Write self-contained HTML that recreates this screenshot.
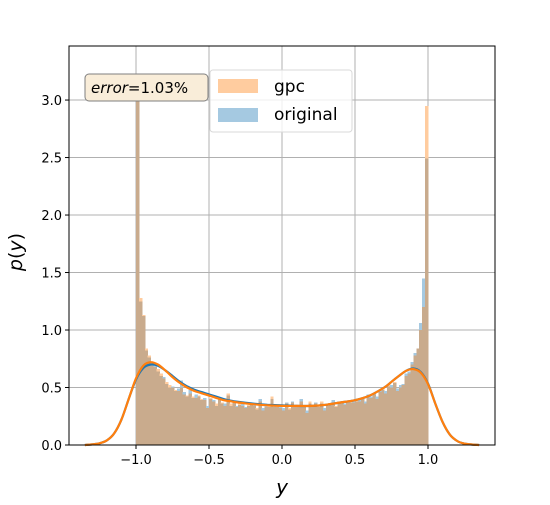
<!DOCTYPE html>
<html><head><meta charset="utf-8"><style>
body{margin:0;background:#fff}
svg{font-family:"DejaVu Sans","Liberation Sans",sans-serif}
</style></head><body>
<svg id="chart" width="550" height="500">
<rect x="0" y="0" width="550" height="500" fill="#fff"/>
<g id="grid"></g><g id="bars" shape-rendering="crispEdges"></g><g id="curves"></g><g id="axes"></g>
<g>
<rect x="85" y="74" width="123" height="27" rx="4" fill="#f9edd9" stroke="#7f7f7f" stroke-width="1"/>
<text x="91" y="93" font-size="15"><tspan font-style="italic">error</tspan>=1.03%</text>
</g>
<g>
<rect x="210" y="70" width="142" height="62" rx="3" fill="#fff" fill-opacity="0.8" stroke="#d9d9d9"/>
<rect x="218" y="79" width="40" height="14" fill="#ffcc9f"/>
<text x="274" y="92" font-size="17">gpc</text>
<rect x="218" y="108" width="40" height="14" fill="#a5c9e1"/>
<text x="274" y="120" font-size="17">original</text>
</g>
<text x="282" y="494" font-size="20" font-style="italic" text-anchor="middle">y</text>
<text transform="translate(22,252) rotate(-90)" font-size="19" text-anchor="middle"><tspan font-style="italic">p</tspan>(<tspan font-style="italic">y</tspan>)</text>
</svg>
<script>
const binStart = -1.0;
const binWidth = 0.02;
const gpcValues = [3.1,1.28,1.13,0.84,0.78,0.72,0.68,0.66,0.62,0.58,0.55,0.52,0.50,0.48,0.47,0.50,0.44,0.43,0.45,0.42,0.41,0.43,0.40,0.39,0.32,0.41,0.38,0.36,0.40,0.37,0.34,0.45,0.36,0.37,0.33,0.37,0.34,0.32,0.35,0.36,0.34,0.32,0.38,0.30,0.33,0.35,0.42,0.33,0.34,0.32,0.30,0.36,0.32,0.37,0.33,0.35,0.38,0.34,0.28,0.38,0.33,0.36,0.34,0.38,0.30,0.34,0.35,0.37,0.34,0.36,0.38,0.35,0.37,0.38,0.37,0.39,0.38,0.40,0.36,0.42,0.41,0.44,0.40,0.46,0.49,0.45,0.53,0.50,0.55,0.47,0.50,0.52,0.60,0.62,0.70,0.78,0.84,1.00,1.20,2.95];
const origValues = [3.1,1.25,1.12,0.82,0.76,0.70,0.69,0.64,0.60,0.59,0.53,0.50,0.51,0.47,0.49,0.56,0.46,0.42,0.48,0.41,0.44,0.42,0.39,0.41,0.34,0.40,0.39,0.34,0.41,0.36,0.36,0.43,0.34,0.38,0.34,0.35,0.36,0.33,0.34,0.37,0.36,0.31,0.40,0.32,0.34,0.33,0.40,0.35,0.33,0.33,0.32,0.37,0.31,0.38,0.35,0.34,0.40,0.33,0.30,0.36,0.34,0.37,0.33,0.36,0.32,0.35,0.36,0.39,0.33,0.37,0.37,0.36,0.38,0.37,0.39,0.38,0.40,0.41,0.38,0.44,0.42,0.45,0.42,0.47,0.48,0.47,0.51,0.52,0.54,0.49,0.52,0.53,0.62,0.64,0.72,0.80,0.84,1.06,1.45,2.49];
const kdeX = [-1.35,-1.3,-1.25,-1.2,-1.15,-1.1,-1.05,-1.0,-0.95,-0.9,-0.85,-0.8,-0.75,-0.7,-0.65,-0.6,-0.55,-0.5,-0.45,-0.4,-0.35,-0.3,-0.2,-0.1,0,0.1,0.2,0.3,0.4,0.5,0.6,0.7,0.75,0.8,0.85,0.9,0.95,1.0,1.05,1.1,1.15,1.2,1.25,1.3,1.35];
const kdeGpc = [0,0.005,0.015,0.04,0.1,0.22,0.4,0.58,0.69,0.72,0.70,0.65,0.59,0.54,0.50,0.47,0.45,0.43,0.41,0.39,0.38,0.37,0.355,0.345,0.34,0.34,0.34,0.35,0.37,0.39,0.43,0.50,0.55,0.60,0.645,0.66,0.63,0.53,0.36,0.2,0.09,0.035,0.012,0.004,0];
const kdeOrig = [0,0.005,0.015,0.04,0.1,0.22,0.4,0.57,0.67,0.70,0.69,0.65,0.60,0.55,0.51,0.48,0.46,0.44,0.42,0.40,0.385,0.375,0.36,0.35,0.345,0.34,0.34,0.35,0.37,0.39,0.43,0.50,0.55,0.60,0.645,0.665,0.635,0.535,0.36,0.2,0.09,0.035,0.012,0.004,0];
const xTicks = [-1.0,-0.5,0.0,0.5,1.0];
const xTickLabels = ["−1.0","−0.5","0.0","0.5","1.0"];
const yTicks = [0,0.5,1,1.5,2,2.5,3];
const yTickLabels = ["0.0","0.5","1.0","1.5","2.0","2.5","3.0"];

const L=69,R=495,T=46,B=445;
const xMin=-1.459,xMax=1.459,yMin=0,yMax=3.47;
const sx=v=>L+(v-xMin)/(xMax-xMin)*(R-L);
const sy=v=>B-(v-yMin)/(yMax-yMin)*(B-T);
const NS="http://www.w3.org/2000/svg";
function mk(tag,attrs,parent){const e=document.createElementNS(NS,tag);for(const k in attrs)e.setAttribute(k,attrs[k]);parent.appendChild(e);return e;}
const grid=document.getElementById('grid'),bars=document.getElementById('bars'),curves=document.getElementById('curves'),axes=document.getElementById('axes');
xTicks.forEach((t,i)=>{
  const g=mk('line',{x1:sx(t),x2:sx(t),y1:T,y2:B,stroke:'#b0b0b0','stroke-width':1},grid);
  
  
  mk('line',{x1:sx(t),x2:sx(t),y1:B,y2:B+4,stroke:'#000'},axes);
  const tx=mk('text',{x:sx(t),y:B+19,'font-size':13,'text-anchor':'middle'},axes);
  tx.textContent=xTickLabels[i];
  
  
});
yTicks.forEach((t,i)=>{
  const g=mk('line',{x1:L,x2:R,y1:sy(t),y2:sy(t),stroke:'#b0b0b0','stroke-width':1},grid);
  
  
  mk('line',{x1:L-4,x2:L,y1:sy(t),y2:sy(t),stroke:'#000'},axes);
  const tx=mk('text',{x:L-7,y:sy(t)+5,'font-size':13,'text-anchor':'end'},axes);
  tx.textContent=yTickLabels[i];
  
  
});
function bar(x0,w,v,color,name){
  const top=Math.max(sy(v),T);
  const r=mk('rect',{x:x0,y:top,width:w,height:B-top,fill:color},bars);
  
  
}
gpcValues.forEach((g,i)=>{
  const o=origValues[i];
  const x0=sx(binStart+i*binWidth),x1=sx(binStart+(i+1)*binWidth);
  const w=x1-x0+0.5;
  bar(x0,w,o,'#a5c9e1','bar-original');
  bar(x0,w,g,'#ffcc9f','bar-gpc');
  bar(x0,w,Math.min(g,o),'#c9ab8d','bar-overlap');
});
function drawLine(ys,color,name){
  const P=kdeX.map((x,i)=>[sx(x),sy(ys[i])]);
  let d='M'+P[0][0].toFixed(1)+','+P[0][1].toFixed(1);
  for(let i=0;i<P.length-1;i++){
    const p0=P[Math.max(i-1,0)],p1=P[i],p2=P[i+1],p3=P[Math.min(i+2,P.length-1)];
    const c1=[p1[0]+(p2[0]-p0[0])/6,p1[1]+(p2[1]-p0[1])/6];
    const c2=[p2[0]-(p3[0]-p1[0])/6,p2[1]-(p3[1]-p1[1])/6];
    d+=' C'+c1.map(v=>v.toFixed(1)).join(',')+' '+c2.map(v=>v.toFixed(1)).join(',')+' '+p2.map(v=>v.toFixed(1)).join(',');
  }
  const l=mk('path',{d:d,fill:'none',stroke:color,'stroke-width':2.2,'stroke-linejoin':'round'},curves);
  
  
}
drawLine(kdeOrig,'#1f77b4','kde-original');
drawLine(kdeGpc,'#ff7f0e','kde-gpc');
const frame=mk('rect',{x:L,y:T,width:R-L,height:B-T,fill:'none',stroke:'#000','stroke-width':1},axes);


</script>
</body></html>
